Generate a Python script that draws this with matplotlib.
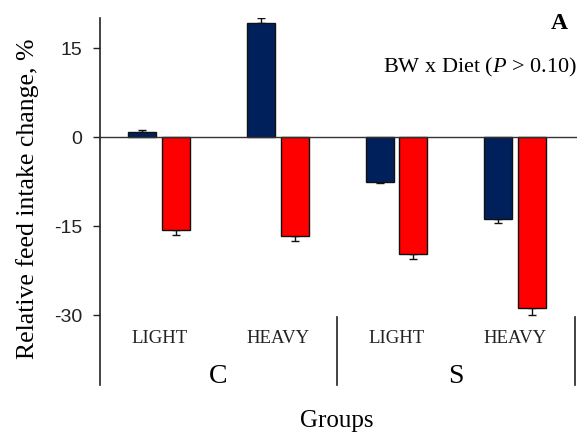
import numpy as np
import matplotlib
matplotlib.use('Agg')
import matplotlib.pyplot as plt

plt.rcParams['mathtext.fontset'] = 'custom'
plt.rcParams['mathtext.rm'] = 'Liberation Serif'
plt.rcParams['mathtext.it'] = 'Liberation Serif:italic'

# feed intake change per body-weight class, split by diet
classes = ['LIGHT', 'HEAVY', 'LIGHT', 'HEAVY']
diets = ['C', 'S']
navy_vals = [0.9, 19.3, -7.5, -13.8]
navy_err = [0.25, 0.85, 0.3, 0.6]
red_vals = [-15.7, -16.6, -19.7, -28.9]
red_err = [0.8, 0.85, 0.9, 1.1]

serif = 'Liberation Serif'
navy = '#00205B'
red = '#FF0000'

fig = plt.figure(figsize=(5.81, 4.37), dpi=100)
ax = fig.add_axes([0.172, 0.119, 0.821, 0.84])

x = np.arange(len(classes))
w = 0.235
off = 0.142

ax.bar(x - off, navy_vals, w, color=navy, edgecolor='#111111', linewidth=1, zorder=3)
ax.bar(x + off, red_vals, w, color=red, edgecolor='#111111', linewidth=1, zorder=3)

# error bars point away from zero
for xi, v, e in zip(x - off, navy_vals, navy_err):
    lo, hi = (0, e) if v > 0 else (e, 0)
    ax.errorbar(xi, v, yerr=[[lo], [hi]], fmt='none', ecolor='#111111',
                elinewidth=1, capsize=3, capthick=1, zorder=2)
for xi, v, e in zip(x + off, red_vals, red_err):
    lo, hi = (0, e) if v > 0 else (e, 0)
    ax.errorbar(xi, v, yerr=[[lo], [hi]], fmt='none', ecolor='#111111',
                elinewidth=1, capsize=3, capthick=1, zorder=2)

ax.axhline(0, color='#333333', linewidth=1, zorder=4)

ax.set_xlim(-0.5, 3.52)
ax.set_ylim(-41.8, 20.1)
ax.set_yticks([15, 0, -15, -30])
ax.set_yticklabels(['15', '0', '-15', '-30'], family='Liberation Sans', fontsize=14, color='#222222')
ax.tick_params(axis='y', direction='out', length=5, width=1, pad=8, color='#222222')
ax.set_xticks([])
for s in ['top', 'right', 'bottom']:
    ax.spines[s].set_visible(False)
ax.spines['left'].set_color('#222222')
ax.spines['left'].set_linewidth(1.2)

ax.set_ylabel('Relative feed intake change, %', family=serif, fontsize=18.5)
ax.yaxis.set_label_coords(-0.127, 0.508)

# category labels under the bars
for xi, lab in zip(x, classes):
    ax.text(xi, -33.9, lab, family=serif, fontsize=13.5, ha='center', va='center', color='#222222')
for i, d in enumerate(diets):
    ax.text(2 * i + 0.5, -40.3, d, family=serif, fontsize=20, ha='center', va='center')
for sx in [1.5, 3.5]:
    ax.plot([sx, sx], [-30.3, -41.8], color='#222222', linewidth=1.2, clip_on=False)

ax.text(1.5, -47.8, 'Groups', family=serif, fontsize=18, ha='center', va='center', clip_on=False)
ax.text(3.37, 19.2, 'A', family=serif, fontweight='bold', fontsize=17, ha='center', va='center')
ax.text(3.52, 11.8, r'BW x Diet ($P$ > 0.10)', family=serif, fontsize=16, ha='right', va='center')

fig.savefig('out.png', dpi=100)
